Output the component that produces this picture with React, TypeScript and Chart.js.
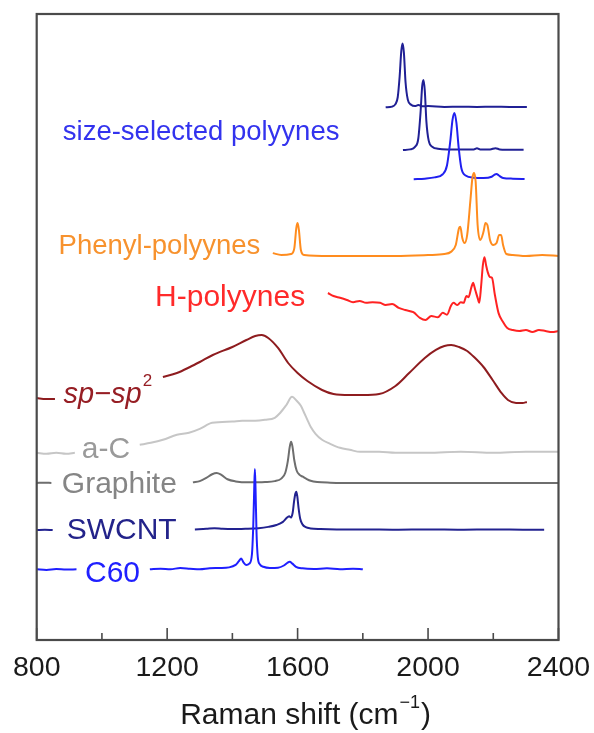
import React, { useEffect, useRef } from "react";
import { Chart, registerables } from "chart.js";
Chart.register(...registerables);

// ---- axis ----
const X_MIN = 800;
const X_MAX = 2400;
const Y_MIN = 0;
const Y_MAX = 100;
const majorTicks = [800, 1200, 1600, 2000, 2400];
const minorTicks = [1000, 1400, 1800, 2200];
const axisTitle = "Raman shift (cm";
const axisTitleSup = "\u22121";

// ---- spectra (Raman shift in cm-1, intensity in a.u., stacking offset) ----
const c60Shift = [800, 830, 860, 890, 922, 1000, 1147, 1180, 1210, 1240, 1270, 1300, 1330, 1360, 1390, 1410, 1420, 1427, 1434, 1442, 1452, 1460, 1464, 1467, 1469, 1471, 1474, 1478, 1484, 1495, 1515, 1540, 1558, 1568, 1576, 1584, 1595, 1615, 1650, 1690, 1730, 1770, 1800];
const c60Int = [0.1, 0, 0.15, 0.05, 0.1, null, 0.1, 0.2, 0.1, 0.3, 0.2, 0.1, 0.25, 0.3, 0.4, 0.8, 1.4, 1.8, 1.2, 0.8, 1.0, 2.5, 7, 13, 16.1, 13, 6, 2, 0.9, 0.5, 0.3, 0.35, 0.7, 1.1, 1.3, 1.0, 0.5, 0.25, 0.15, 0.25, 0.1, 0.2, 0.1];
const c60Offset = 11.2;

const swcntShift = [800, 825, 849, 900, 1285, 1320, 1345, 1370, 1400, 1440, 1480, 1510, 1535, 1555, 1566, 1574, 1580, 1585, 1589, 1593, 1596, 1599, 1603, 1608, 1615, 1625, 1640, 1670, 1720, 1800, 1900, 2000, 2100, 2200, 2300, 2356];
const swcntInt = [0, 0.05, 0, null, 0.1, 0.2, 0.3, 0.2, 0.15, 0.2, 0.3, 0.5, 0.8, 1.3, 1.9, 2.2, 2.0, 2.8, 4.5, 5.8, 6.1, 5.4, 3.5, 1.8, 0.9, 0.45, 0.25, 0.15, 0.1, 0.1, 0.05, 0.1, 0.05, 0.1, 0.05, 0.05];
const swcntOffset = 17.57;

const graphiteShift = [800, 822, 845, 900, 1279, 1300, 1320, 1338, 1352, 1366, 1385, 1410, 1450, 1500, 1530, 1550, 1562, 1570, 1576, 1580, 1584, 1590, 1597, 1606, 1616, 1626, 1640, 1660, 1700, 1800, 1900, 2000, 2100, 2200, 2300, 2400];
const graphiteInt = [0, 0.05, 0, null, 0.1, 0.3, 0.8, 1.4, 1.6, 1.3, 0.6, 0.25, 0.1, 0.15, 0.3, 0.7, 1.6, 3.5, 5.8, 6.6, 5.9, 3.6, 2.0, 1.3, 1.0, 0.7, 0.35, 0.15, 0.05, 0, 0, 0, 0, 0, 0, 0];
const graphiteOffset = 25.08;

const acShift = [800, 830, 860, 890, 917, 1000, 1116, 1150, 1187, 1230, 1267, 1300, 1338, 1400, 1430, 1470, 1500, 1530, 1547, 1565, 1583, 1597, 1610, 1620, 1630, 1640, 1655, 1675, 1700, 1730, 1760, 1792, 1850, 1900, 2000, 2100, 2200, 2300, 2400];
const acInt = [0, -0.16, 0, -0.16, 0, null, 1.28, 1.6, 2.08, 2.88, 3.2, 3.83, 4.79, 5.0, 5.11, 5.11, 5.27, 5.6, 6.4, 7.6, 8.95, 8.31, 7.51, 6.4, 5.27, 4.15, 3.04, 2.08, 1.44, 0.8, 0.48, 0.16, 0.16, 0, 0, 0.16, 0, 0.16, 0.16];
const acOffset = 29.9;

const spsp2Shift = [800, 828, 856, 900, 1187, 1230, 1270, 1300, 1340, 1400, 1443, 1470, 1490, 1510, 1540, 1571, 1600, 1630, 1675, 1710, 1760, 1800, 1850, 1900, 1942, 1990, 2024, 2050, 2071, 2095, 2120, 2141, 2170, 2198, 2225, 2245, 2270, 2290, 2303];
const spsp2Int = [0.8, 0.64, 0.64, null, 4.15, 4.79, 5.75, 6.55, 7.67, 8.95, 10.06, 10.7, 10.86, 10.38, 8.79, 6.39, 4.79, 3.51, 2.08, 1.44, 1.28, 1.28, 1.44, 2.72, 4.79, 7.19, 8.47, 9.11, 9.27, 8.95, 8.31, 7.35, 5.75, 3.67, 1.6, 0.48, 0, 0, 0.16];
const spsp2Offset = 37.86;

const hpolyShift = [1693, 1710, 1730, 1751, 1770, 1790, 1810, 1830, 1853, 1870, 1890, 1910, 1930, 1955, 1975, 1992, 2010, 2030, 2045, 2058, 2070, 2078, 2090, 2100, 2109, 2118, 2124, 2133, 2138, 2145, 2152, 2157, 2163, 2168, 2173, 2178, 2183, 2190, 2196, 2205, 2216, 2230, 2243, 2260, 2280, 2300, 2320, 2340, 2360, 2380, 2400];
const hpolyInt = [6.07, 5.6, 5.3, 4.95, 4.6, 4.8, 4.5, 4.6, 4.5, 4.15, 4.3, 3.7, 3.35, 3.0, 2.1, 1.76, 2.4, 2.2, 2.9, 2.6, 4.0, 4.5, 4.15, 4.6, 4.5, 5.6, 5.4, 7.0, 7.7, 6.5, 5.3, 4.5, 7.35, 10.5, 11.8, 10.5, 9.4, 8.6, 8.5, 5.75, 2.9, 1.44, 0.48, 0.16, 0, 0.16, -0.16, 0.16, 0, -0.16, 0];
const hpolyOffset = 49.36;

const phenylShift = [1524, 1550, 1580, 1590, 1596, 1600, 1604, 1610, 1620, 1700, 1800, 1900, 2000, 2050, 2070, 2085, 2095, 2099, 2105, 2112, 2120, 2130, 2136, 2141, 2146, 2152, 2160, 2170, 2176, 2182, 2190, 2200, 2210, 2218, 2224, 2230, 2240, 2260, 2300, 2350, 2400];
const phenylInt = [0.3, 0, 0.16, 1.1, 4.3, 5.1, 4.0, 0.8, 0, -0.16, -0.16, -0.16, 0, 0.16, 0.5, 1.6, 4.3, 4.5, 2.7, 1.9, 3.2, 8.8, 12.3, 13.1, 11.7, 4.8, 2.4, 3.7, 5.1, 4.8, 2.4, 1.6, 1.9, 3.2, 3.2, 1.6, 0.16, 0, -0.16, 0, -0.16];
const phenylOffset = 61.5;

const poly1Shift = [1870, 1890, 1900, 1907, 1913, 1918, 1922, 1926, 1931, 1938, 1948, 1960, 1970, 1985, 2000, 2050, 2100, 2150, 2200, 2250, 2303];
const poly1Int = [0, 0.1, 0.5, 1.6, 5.0, 9.0, 10.2, 8.7, 4.0, 1.2, 0.4, 0.2, 0.35, 0.15, 0.2, 0.05, 0.1, 0.05, 0.1, 0.05, 0.05];
const poly1Offset = 85.1;

const poly2Shift = [1923, 1945, 1960, 1970, 1977, 1982, 1986, 1990, 1995, 2002, 2014, 2030, 2060, 2100, 2140, 2150, 2160, 2190, 2207, 2220, 2260, 2293];
const poly2Int = [0, 0.1, 0.5, 1.8, 6.0, 10.2, 11.2, 9.5, 4.5, 1.5, 0.5, 0.2, 0.1, 0.1, 0.1, 0.3, 0.1, 0.1, 0.3, 0.1, 0.05, 0.05];
const poly2Offset = 78.27;

const poly3Shift = [1956, 1990, 2020, 2045, 2058, 2068, 2075, 2081, 2087, 2094, 2102, 2115, 2140, 2170, 2195, 2203, 2210, 2217, 2230, 2260, 2296];
const poly3Int = [0, 0.1, 0.3, 0.8, 2.2, 6.0, 9.5, 10.6, 9.0, 5.0, 1.8, 0.6, 0.25, 0.2, 0.4, 0.7, 0.85, 0.6, 0.2, 0.1, 0.05];
const poly3Offset = 73.6;

// ---- labels ----
const labelTexts = ["size-selected polyynes", "Phenyl-polyynes", "H-polyynes", "sp\u2212sp", "a-C", "Graphite", "SWCNT", "C60"];
const labelShift = [880, 867, 1163, 882, 938, 877, 892, 948];
const labelLevel = [79.95, 61.66, 53.35, 37.86, 29.07, 23.48, 16.13, 9.27];

const FONT = '"Liberation Sans", Arial, Helvetica, sans-serif';

function build(shift: number[], inten: (number | null)[], offset: number) {
  return shift.map((x, i) => ({ x, y: inten[i] === null ? null : (inten[i] as number) + offset }));
}

export default function App() {
  const ref = useRef<HTMLCanvasElement | null>(null);
  useEffect(() => {
    if (!ref.current) return;
    const series = [
      { d: build(c60Shift, c60Int, c60Offset), c: "#1f1fff" },
      { d: build(swcntShift, swcntInt, swcntOffset), c: "#222290" },
      { d: build(graphiteShift, graphiteInt, graphiteOffset), c: "#6e6e6e" },
      { d: build(acShift, acInt, acOffset), c: "#c6c6c6" },
      { d: build(spsp2Shift, spsp2Int, spsp2Offset), c: "#8e1c1f" },
      { d: build(hpolyShift, hpolyInt, hpolyOffset), c: "#ff2222" },
      { d: build(phenylShift, phenylInt, phenylOffset), c: "#ff8c1e" },
      { d: build(poly3Shift, poly3Int, poly3Offset), c: "#2020f0" },
      { d: build(poly2Shift, poly2Int, poly2Offset), c: "#202095" },
      { d: build(poly1Shift, poly1Int, poly1Offset), c: "#202095" },
    ];
    const labelStyle = [
      { size: 27.5, color: "#3333ee", italic: false },
      { size: 27.5, color: "#f7922e", italic: false },
      { size: 30, color: "#ff2a2a", italic: false },
      { size: 29, color: "#961e24", italic: true, sup: "2" },
      { size: 30, color: "#9a9a9a", italic: false },
      { size: 30, color: "#858585", italic: false },
      { size: 30, color: "#23238a", italic: false },
      { size: 30, color: "#2020ff", italic: false },
    ];
    const deco = {
      id: "deco",
      afterDatasetsDraw(chart: any) {
        const { ctx, chartArea: a, scales } = chart;
        const xs = scales.x;
        const ys = scales.y;
        ctx.save();
        // frame
        ctx.strokeStyle = "#4a4a4a";
        ctx.lineWidth = 2.2;
        ctx.strokeRect(a.left, a.top, a.right - a.left, a.bottom - a.top);
        // inward ticks
        ctx.lineWidth = 1.6;
        majorTicks.forEach((v) => {
          const px = xs.getPixelForValue(v);
          ctx.beginPath();
          ctx.moveTo(px, a.bottom);
          ctx.lineTo(px, a.bottom - 12);
          ctx.stroke();
        });
        minorTicks.forEach((v) => {
          const px = xs.getPixelForValue(v);
          ctx.beginPath();
          ctx.moveTo(px, a.bottom);
          ctx.lineTo(px, a.bottom - 7);
          ctx.stroke();
        });
        // labels
        ctx.textBaseline = "alphabetic";
        ctx.textAlign = "left";
        labelTexts.forEach((t, i) => {
          const s = labelStyle[i];
          const px = xs.getPixelForValue(labelShift[i]);
          const py = ys.getPixelForValue(labelLevel[i]);
          ctx.font = `${s.italic ? "italic " : ""}${s.size}px ${FONT}`;
          ctx.fillStyle = s.color;
          ctx.fillText(t, px, py);
          if (s.sup) {
            const w = ctx.measureText(t).width;
            ctx.font = `${Math.round(s.size * 0.6)}px ${FONT}`;
            ctx.fillText(s.sup, px + w + 1, py - s.size * 0.58);
          }
        });
        // axis title
        ctx.fillStyle = "#1a1a1a";
        ctx.font = `30px ${FONT}`;
        const w1 = ctx.measureText(axisTitle).width;
        ctx.font = `18px ${FONT}`;
        const w2 = ctx.measureText(axisTitleSup).width;
        ctx.font = `30px ${FONT}`;
        const w3 = ctx.measureText(")").width;
        const total = w1 + w2 + w3 + 2;
        const cx = (a.left + a.right) / 2 + 8;
        let x0 = cx - total / 2;
        const base = 724;
        ctx.fillText(axisTitle, x0, base);
        x0 += w1 + 1;
        ctx.font = `18px ${FONT}`;
        ctx.fillText(axisTitleSup, x0, base - 16);
        x0 += w2 + 1;
        ctx.font = `30px ${FONT}`;
        ctx.fillText(")", x0, base);
        ctx.restore();
      },
    };
    const chart = new Chart(ref.current, {
      type: "line",
      data: {
        datasets: series.map((s) => ({
          data: s.d as any,
          borderColor: s.c,
          borderWidth: 2,
          pointRadius: 0,
          fill: false,
          spanGaps: false,
          cubicInterpolationMode: "monotone" as const,
        })),
      },
      options: {
        animation: false,
        responsive: true,
        maintainAspectRatio: false,
        layout: { padding: { left: 36.7, right: 35.5, top: 14, bottom: 0 } },
        plugins: { legend: { display: false }, tooltip: { enabled: false } },
        scales: {
          x: {
            type: "linear",
            min: X_MIN,
            max: X_MAX,
            afterFit: (sc: any) => {
              sc.height = 93;
              sc.paddingLeft = 0;
              sc.paddingRight = 0;
            },
            afterBuildTicks: (sc: any) => {
              sc.ticks = majorTicks.map((v) => ({ value: v }));
            },
            grid: { display: false, drawTicks: false },
            border: { display: false },
            ticks: {
              color: "#1a1a1a",
              font: { size: 28.5, family: FONT },
              padding: 11,
              maxRotation: 0,
              callback: (v: any) => String(v),
            },
          },
          y: {
            type: "linear",
            min: Y_MIN,
            max: Y_MAX,
            display: false,
          },
        },
      },
      plugins: [deco],
    });
    return () => chart.destroy();
  }, []);
  return (
    <div style={{ position: "fixed", left: 0, top: 0, width: 594, height: 733, background: "#fff" }}>
      <canvas ref={ref} />
    </div>
  );
}
